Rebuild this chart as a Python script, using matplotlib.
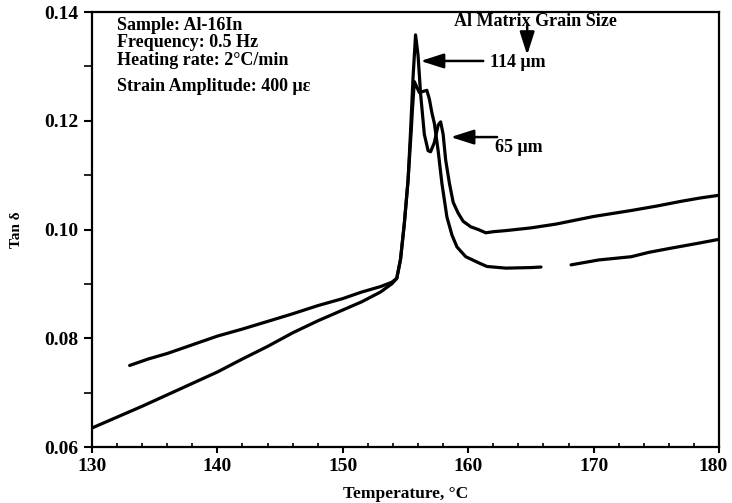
import numpy as np
import matplotlib
matplotlib.use("Agg")
import matplotlib.pyplot as plt
import matplotlib.transforms as mtransforms
from matplotlib.ticker import MultipleLocator, FormatStrFormatter

plt.rcParams['font.family'] = ['Liberation Serif', 'DejaVu Serif']
plt.rcParams['font.weight'] = 'bold'

# Curve A: starts at 133 C, tall peak, valley, second peak, upper plateau
temp_a = [133.0, 134.5, 136.0, 138.0, 140.0, 142.0, 144.0, 146.0, 148.0, 150.0,
          151.5, 153.0, 153.9, 154.3, 154.6, 154.9, 155.2, 155.4, 155.6, 155.8,
          156.0, 156.2, 156.5, 156.8, 157.0, 157.3, 157.6, 157.8, 158.0, 158.2,
          158.5, 158.8, 159.2, 159.6, 160.2, 160.8, 161.4, 162.0, 163.0, 165.0,
          167.0, 170.0, 173.0, 175.0, 177.0, 178.5, 180.0]
tan_a = [0.0750, 0.0762, 0.0772, 0.0788, 0.0804, 0.0817, 0.0831, 0.0845, 0.0860, 0.0873,
         0.0885, 0.0895, 0.0903, 0.0910, 0.0945, 0.1010, 0.1090, 0.1180, 0.1280, 0.1358,
         0.1320, 0.1250, 0.1175, 0.1145, 0.1143, 0.1160, 0.1192, 0.1198, 0.1175, 0.1128,
         0.1085, 0.1050, 0.1030, 0.1015, 0.1005, 0.1000, 0.0994, 0.0996, 0.0998, 0.1003,
         0.1010, 0.1024, 0.1035, 0.1043, 0.1052, 0.1058, 0.1063]

# Curve B: starts at 130 C, lower peak with shoulder, lower plateau (with a gap)
temp_b = [130.0, 132.0, 134.0, 136.0, 138.0, 140.0, 142.0, 144.0, 146.0, 148.0,
          150.0, 151.5, 153.0, 153.9, 154.3, 154.6, 154.9, 155.2, 155.45, 155.55,
          155.7, 155.9, 156.1, 156.4, 156.7, 156.9, 157.1, 157.3, 157.6, 157.9,
          158.3, 158.7, 159.1, 159.8, 160.9, 161.5, 163.0, 165.0, 165.8, np.nan,
          168.2, 170.4, 173.0, 174.4, 176.0, 178.4, 180.0]
tan_b = [0.0635, 0.0655, 0.0675, 0.0696, 0.0717, 0.0738, 0.0762, 0.0785, 0.0810, 0.0832,
         0.0852, 0.0867, 0.0885, 0.0900, 0.0910, 0.0945, 0.1010, 0.1090, 0.1180, 0.1220,
         0.1272, 0.1262, 0.1252, 0.1254, 0.1256, 0.1240, 0.1215, 0.1195, 0.1145, 0.1085,
         0.1023, 0.0990, 0.0968, 0.0950, 0.0938, 0.0932, 0.0929, 0.0930, 0.0931, np.nan,
         0.0935, 0.0944, 0.0950, 0.0958, 0.0965, 0.0975, 0.0982]

x_ticks = [130, 140, 150, 160, 170, 180]
y_ticks = [0.06, 0.08, 0.10, 0.12, 0.14]

info_lines = ["Sample: Al-16In", "Frequency: 0.5 Hz", "Heating rate: 2°C/min",
              "Strain Amplitude: 400 με"]

fig = plt.figure(figsize=(7.32, 5.03), dpi=100)
ax = fig.add_axes([0.1257, 0.1113, 0.8566, 0.8648])

for t, v in ((temp_a, tan_a), (temp_b, tan_b)):
    ax.plot(t, v, color='black', lw=2.3, solid_joinstyle='round', solid_capstyle='round')

ax.set_xlim(130, 180)
ax.set_ylim(0.06, 0.14)
ax.set_xticks(x_ticks)
ax.set_yticks(y_ticks)
ax.yaxis.set_major_formatter(FormatStrFormatter('%.2f'))
ax.xaxis.set_minor_locator(MultipleLocator(2))
ax.yaxis.set_minor_locator(MultipleLocator(0.01))
ax.tick_params(axis='x', which='major', direction='out', length=4, width=1.5, labelsize=14, pad=4)
ax.tick_params(axis='x', which='minor', direction='in', length=3, width=1.2)
ax.tick_params(axis='y', which='major', direction='out', length=6, width=1.5, labelsize=14, pad=4)
ax.tick_params(axis='y', which='minor', direction='out', length=6, width=1.2)
for s in ax.spines.values():
    s.set_linewidth(1.6)

# keep the last x tick label inside the figure
last = ax.get_xticklabels()[-1]
last.set_transform(last.get_transform() +
                   mtransforms.ScaledTranslation(-6 / 100, 0, fig.dpi_scale_trans))

ax.set_xlabel("Temperature, °C", fontsize=12.5, fontweight='bold', labelpad=8)
ax.set_ylabel("Tan δ", fontsize=11, fontweight='bold')
ax.yaxis.set_label_coords(-0.110, 0.5)

ys = [0.970, 0.929, 0.888, 0.828]
for line, yy in zip(info_lines, ys):
    ax.text(0.040, yy, line, transform=ax.transAxes, fontsize=13, fontweight='bold',
            ha='left', va='center')

ax.text(165.35, 0.1383, "Al Matrix Grain Size", fontsize=13, fontweight='bold',
        ha='center', va='center')
arrow_style = dict(arrowstyle='-|>,head_length=1.0,head_width=0.32', mutation_scale=14,
                   lw=1.8, color='black', shrinkA=0, shrinkB=0)
ax.annotate('', xy=(164.7, 0.1321), xytext=(164.7, 0.1376), arrowprops=arrow_style)

ax.text(161.75, 0.1308, "114 μm", fontsize=13, fontweight='bold', ha='left', va='center')
ax.annotate('', xy=(156.2, 0.1310), xytext=(161.2, 0.1310), arrowprops=arrow_style)

ax.text(162.15, 0.1150, "65 μm", fontsize=13, fontweight='bold', ha='left', va='center')
ax.annotate('', xy=(158.6, 0.1170), xytext=(162.3, 0.1170), arrowprops=arrow_style)

fig.savefig("out.png", dpi=100)
